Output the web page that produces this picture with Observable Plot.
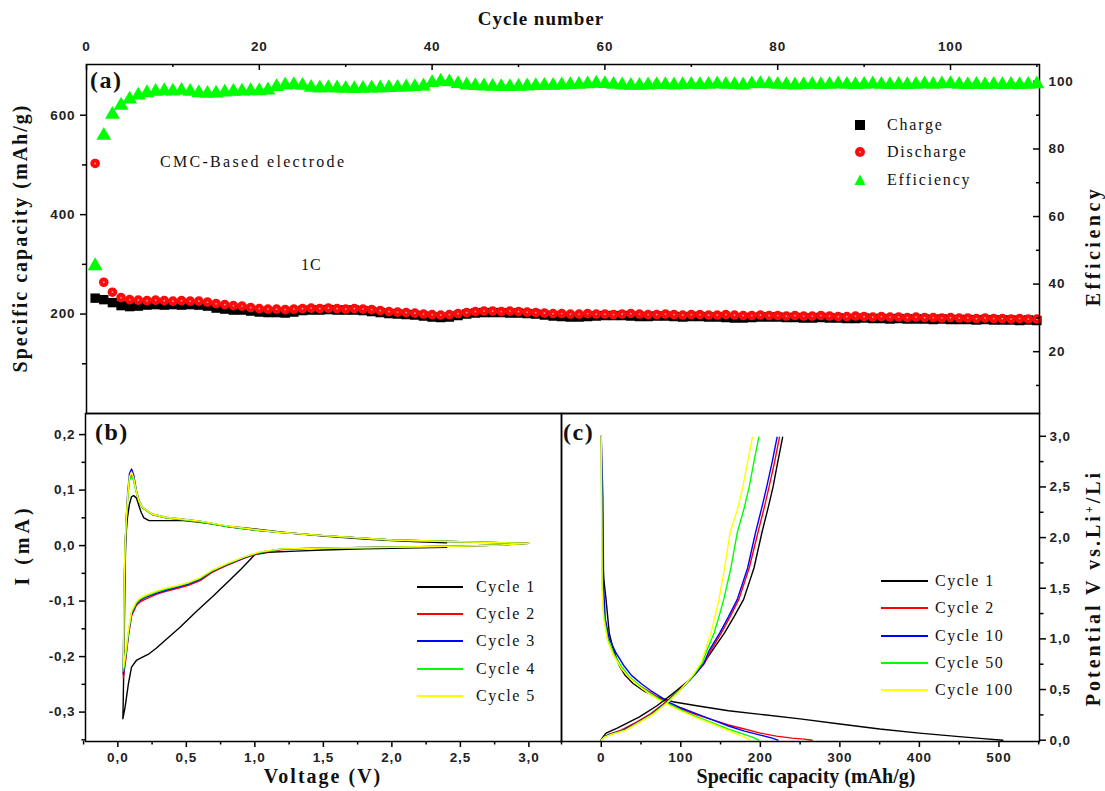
<!DOCTYPE html>
<html>
<head>
<meta charset="utf-8">
<script src="https://cdn.jsdelivr.net/npm/d3@7"></script>
<script src="https://cdn.jsdelivr.net/npm/@observablehq/plot@0.6"></script>
<style>
  body { margin: 0; background: #fff; }
  #chart { position: relative; width: 1105px; height: 791px; background: #fff; overflow: hidden; }
  #chart svg.panel { position: absolute; left: 0; top: 0; background: transparent; overflow: visible; max-width: none; }
  #chart g[aria-label$="tick label"] text { letter-spacing: 0.9px; }
  .lbl { position: absolute; font-family: "Liberation Serif", "Times New Roman", serif; color: #111; white-space: nowrap; line-height: 1; }
  .bold { font-weight: bold; }
</style>
</head>
<body>
<div id="chart"></div>
<script>
// ---------------- Panel (a): cycling data ----------------
const cycleNumber = Array.from({length: 110}, (_, i) => i + 1);
const chargeCapacity = [232,229,223,217,215,216,218,219,218,219,218,219,218,216,212,210,208,208,206,204,
  203,203,202,204,207,208,208,209,208,208,208,207,205,203,201,200,199,198,196,194,
  193,194,197,200,202,203,203,203,202,202,201,200,198,196,195,194,194,195,196,197,
  197,197,196,195,195,196,196,195,194,195,195,194,194,193,192,192,193,194,194,194,
  193,193,192,192,193,192,192,191,191,192,191,191,190,191,190,190,190,189,190,189,
  189,189,188,189,188,188,188,187,188,187];
const dischargeCapacity = [503,264,244,233,229,228,227,228,227,226,227,226,226,224,221,219,217,216,213,211,
  210,210,209,210,211,212,211,212,211,210,211,210,209,207,205,204,203,202,200,199,
  198,199,201,203,205,206,206,205,206,205,204,203,202,201,201,200,200,201,200,200,
  199,200,201,200,199,199,200,199,198,199,199,198,198,199,198,197,197,198,197,197,
  196,197,196,196,197,196,195,195,196,195,194,195,194,194,193,194,193,193,192,193,
  192,192,191,192,191,191,190,191,190,190];
const efficiency = [45.4,84,90.2,92.9,94.7,95.9,96.6,97,97.2,97.1,97.3,97,96.6,96.4,96.5,96.8,97,97.1,97.2,97.2,
  97.4,98.4,98.9,99,98.8,98.2,98,98.1,98,97.9,97.8,97.9,98,98,98.1,98.2,98.3,98.4,98.6,99.6,
  100,99.8,99.3,98.9,98.7,98.6,98.5,98.4,98.4,98.5,98.6,98.7,98.8,98.8,98.9,99,99.1,99.2,99.4,99.3,
  99.1,98.9,98.8,98.8,98.9,99,99,98.9,99,99.1,99,99.1,99.2,99.1,99,98.9,99.2,99.3,99.2,99.1,
  99,98.9,99,99.1,99,99.1,99.2,99.1,99,99.1,99.2,99.1,99,99.1,99,99.1,99.2,99.1,99.2,99.3,
  99.1,99,99.1,99,99.1,99,99.1,99,99.1,99.2];
const cycleTicks = [0, 20, 40, 60, 80, 100];
const cycleMinorTicks = [10, 30, 50, 70, 90, 110];
const capacityTicks = [200, 400, 600];
const capacityMinorTicks = [100, 300, 500];
const efficiencyTicks = [20, 40, 60, 80, 100];
const efficiencyMinorTicks = [10, 30, 50, 70, 90];

// ---------------- Panel (b): cyclic voltammetry [V, mA] ----------------
const cvCycle1 = [[2.4,-0.003],[2.2,-0.004],[1.8,-0.006],[1.5,-0.008],[1.3,-0.010],[1.1,-0.012],[1.0,-0.016],[0.97,-0.024],
  [0.9,-0.042],[0.81,-0.064],[0.7,-0.09],[0.577,-0.118],[0.45,-0.148],[0.344,-0.171],[0.28,-0.185],[0.228,-0.195],
  [0.18,-0.201],[0.135,-0.207],[0.1,-0.219],[0.077,-0.249],[0.053,-0.291],[0.037,-0.312],[0.04,-0.27],[0.045,-0.2],
  [0.05,-0.1],[0.055,-0.02],[0.06,0.02],[0.07,0.05],[0.085,0.075],[0.1,0.088],[0.115,0.09],[0.135,0.086],[0.15,0.075],
  [0.17,0.06],[0.19,0.05],[0.228,0.045],[0.3,0.045],[0.4,0.045],[0.48,0.045],[0.6,0.042],[0.8,0.035],[1.0,0.03],
  [1.2,0.024],[1.5,0.017],[1.8,0.012],[2.0,0.009],[2.2,0.007],[2.4,0.005]];
const cvCycle2 = [[3.0,0.004],[2.8,0.001],[2.5,-0.001],[2.2,-0.002],[2.0,-0.003],[1.7,-0.004],[1.4,-0.005],[1.2,-0.007],
  [1.04,-0.013],[0.93,-0.022],[0.8,-0.035],[0.69,-0.048],[0.6,-0.063],[0.52,-0.071],[0.45,-0.076],[0.344,-0.083],
  [0.28,-0.088],[0.205,-0.096],[0.16,-0.102],[0.135,-0.108],[0.1,-0.127],[0.077,-0.163],[0.06,-0.2],[0.047,-0.225],
  [0.04,-0.238],[0.042,-0.185],[0.045,-0.105],[0.05,-0.035],[0.055,0.008],[0.062,0.048],[0.072,0.088],[0.085,0.12],
  [0.1,0.129],[0.115,0.12],[0.135,0.097],[0.155,0.079],[0.18,0.068],[0.25,0.056],[0.35,0.05],[0.46,0.047],[0.6,0.043],
  [0.81,0.034],[1.0,0.028],[1.175,0.024],[1.5,0.018],[2.0,0.01],[2.5,0.007],[3.0,0.004]];
const cvCycle3 = [[3.0,0.004],[2.8,0.001],[2.5,-0.001],[2.2,-0.002],[2.0,-0.003],[1.65,-0.004],[1.4,-0.005],[1.2,-0.006],
  [1.04,-0.012],[0.93,-0.021],[0.8,-0.034],[0.69,-0.046],[0.6,-0.061],[0.52,-0.069],[0.45,-0.074],[0.344,-0.081],
  [0.28,-0.086],[0.205,-0.093],[0.16,-0.099],[0.135,-0.105],[0.1,-0.123],[0.077,-0.16],[0.06,-0.196],[0.047,-0.221],
  [0.04,-0.232],[0.042,-0.18],[0.045,-0.1],[0.05,-0.03],[0.055,0.012],[0.062,0.052],[0.072,0.095],[0.085,0.13],
  [0.1,0.138],[0.115,0.128],[0.135,0.1],[0.155,0.081],[0.18,0.069],[0.25,0.057],[0.35,0.051],[0.46,0.048],[0.6,0.044],
  [0.81,0.034],[1.0,0.028],[1.175,0.024],[1.5,0.018],[2.0,0.01],[2.5,0.007],[3.0,0.004]];
const cvCycle4 = [[3.0,0.004],[2.8,0.001],[2.5,-0.001],[2.2,-0.002],[2.0,-0.003],[1.7,-0.004],[1.4,-0.005],[1.2,-0.006],
  [1.04,-0.012],[0.93,-0.02],[0.8,-0.033],[0.69,-0.045],[0.6,-0.059],[0.52,-0.067],[0.45,-0.072],[0.344,-0.079],
  [0.28,-0.084],[0.205,-0.091],[0.16,-0.097],[0.135,-0.103],[0.1,-0.121],[0.077,-0.157],[0.06,-0.193],[0.047,-0.216],
  [0.04,-0.226],[0.042,-0.178],[0.045,-0.1],[0.05,-0.032],[0.055,0.008],[0.062,0.047],[0.072,0.086],[0.085,0.118],
  [0.1,0.125],[0.115,0.117],[0.135,0.096],[0.155,0.079],[0.18,0.068],[0.25,0.056],[0.35,0.05],[0.46,0.047],[0.6,0.043],
  [0.81,0.034],[1.0,0.028],[1.175,0.024],[1.5,0.018],[2.0,0.01],[2.5,0.007],[3.0,0.004]];
const cvCycle5 = [[3.0,0.004],[2.8,0.001],[2.5,-0.001],[2.2,-0.002],[2.0,-0.003],[1.7,-0.004],[1.4,-0.005],[1.2,-0.006],
  [1.04,-0.011],[0.93,-0.02],[0.8,-0.032],[0.69,-0.044],[0.6,-0.058],[0.52,-0.066],[0.45,-0.071],[0.344,-0.077],
  [0.28,-0.082],[0.205,-0.089],[0.16,-0.095],[0.135,-0.101],[0.1,-0.118],[0.077,-0.153],[0.06,-0.188],[0.047,-0.21],
  [0.042,-0.22],[0.043,-0.17],[0.045,-0.095],[0.05,-0.028],[0.055,0.012],[0.062,0.05],[0.072,0.09],[0.085,0.124],
  [0.1,0.132],[0.115,0.122],[0.135,0.098],[0.155,0.08],[0.18,0.069],[0.25,0.057],[0.35,0.051],[0.46,0.048],[0.6,0.044],
  [0.81,0.035],[1.0,0.029],[1.175,0.024],[1.5,0.018],[2.0,0.01],[2.5,0.007],[3.0,0.004]];
const cvSeries = [cvCycle1, cvCycle2, cvCycle3, cvCycle4, cvCycle5];
const cvNames = ["Cycle 1", "Cycle 2", "Cycle 3", "Cycle 4", "Cycle 5"];
const voltageTicks = [0, 0.5, 1.0, 1.5, 2.0, 2.5, 3.0];
const voltageMinorTicks = [-0.25, 0.25, 0.75, 1.25, 1.75, 2.25, 2.75];
const currentTicks = [-0.3, -0.2, -0.1, 0, 0.1, 0.2];
const currentMinorTicks = [-0.35, -0.25, -0.15, -0.05, 0.05, 0.15];

// ---------------- Panel (c): galvanostatic profiles [mAh/g, V] ----------------
const gcDischarge1 = [[0.5,2.35],[1,1.93],[3,1.6],[6,1.39],[10,1.06],[15,0.9],[23,0.73],[30,0.64],[40,0.56],[55,0.48],
  [69,0.43],[90,0.38],[120,0.34],[160,0.29],[200,0.255],[250,0.21],[300,0.16],[350,0.11],[400,0.07],[450,0.035],[480,0.015],[505,0.0]];
const gcCharge1 = [[0,0],[2,0.03],[6,0.07],[20,0.12],[48,0.23],[70,0.34],[90,0.46],[112,0.6],[128,0.75],[140,0.89],
  [155,1.06],[167,1.22],[179,1.39],[192,1.7],[202,2.05],[210,2.3],[216,2.5],[222,2.75],[228,2.99]];
const gcDischarge2 = [[0,3.0],[1,2.0],[2,1.5],[4,1.2],[8,1.0],[15,0.85],[25,0.72],[35,0.62],[48,0.54],[60,0.48],[72,0.42],
  [85,0.36],[100,0.31],[120,0.25],[140,0.2],[160,0.15],[180,0.11],[200,0.07],[220,0.04],[240,0.02],[255,0.01],[265,0.0]];
const gcCharge2 = [[0,0],[3,0.03],[10,0.06],[25,0.1],[45,0.18],[62,0.26],[80,0.37],[100,0.51],[118,0.65],[130,0.76],[138,0.89],
  [151,1.06],[162,1.22],[173,1.39],[186,1.7],[197,2.05],[205,2.3],[211,2.5],[218,2.75],[224,2.99]];
const gcDischarge10 = [[0,3.0],[2,2.4],[3,1.5],[5,1.2],[10,1.0],[18,0.87],[28,0.74],[38,0.64],[50,0.56],[62,0.49],[74,0.43],
  [86,0.37],[100,0.32],[120,0.26],[140,0.2],[160,0.14],[180,0.09],[200,0.05],[215,0.02],[222,0.0]];
const gcCharge10 = [[0,0],[3,0.03],[12,0.06],[28,0.1],[47,0.18],[64,0.26],[81,0.37],[100,0.5],[117,0.64],[129,0.76],[136,0.89],
  [149,1.06],[160,1.22],[171,1.39],[184,1.7],[194,2.05],[202,2.3],[208,2.5],[215,2.75],[221,2.99]];
const gcDischarge50 = [[0,3.0],[1,1.6],[3,1.25],[8,1.0],[16,0.85],[26,0.72],[36,0.62],[48,0.54],[60,0.47],[72,0.41],[84,0.36],
  [100,0.3],[120,0.23],[140,0.17],[160,0.11],[175,0.07],[190,0.03],[198,0.0]];
const gcCharge50 = [[0,0],[4,0.03],[13,0.06],[30,0.1],[48,0.18],[65,0.26],[82,0.37],[100,0.5],[116,0.64],[127,0.76],[133,0.89],
  [142,1.06],[148,1.22],[154,1.39],[163,1.7],[171,2.05],[180,2.3],[186,2.5],[192,2.75],[198,2.99]];
const gcDischarge100 = [[0,3.0],[1,1.5],[3,1.2],[8,0.98],[16,0.83],[26,0.7],[36,0.61],[48,0.53],[60,0.46],[72,0.4],[84,0.35],
  [100,0.29],[120,0.22],[140,0.16],[155,0.11],[170,0.06],[180,0.03],[187,0.0]];
const gcCharge100 = [[0,0],[4,0.03],[14,0.06],[31,0.1],[49,0.18],[66,0.26],[83,0.37],[100,0.5],[115,0.64],[125,0.76],[131,0.89],
  [138,1.06],[143,1.22],[148,1.39],[155,1.7],[162,2.05],[172,2.3],[178,2.5],[184,2.75],[190,2.99]];
const gcNames = ["Cycle 1", "Cycle 2", "Cycle 10", "Cycle 50", "Cycle 100"];
const gcDischarge = [gcDischarge1, gcDischarge2, gcDischarge10, gcDischarge50, gcDischarge100];
const gcCharge = [gcCharge1, gcCharge2, gcCharge10, gcCharge50, gcCharge100];
const capTicksC = [0, 100, 200, 300, 400, 500];
const capMinorTicksC = [-50, 50, 150, 250, 350, 450, 550];
const potentialTicks = [0, 0.5, 1.0, 1.5, 2.0, 2.5, 3.0];
const potentialMinorTicks = [0.25, 0.75, 1.25, 1.75, 2.25, 2.75];

const seriesColors = ["#000000", "#ff0000", "#0000ff", "#00ff00", "#ffff00"];

// ---------------- Layout ----------------
const W = 1105, H = 791;
const chart = document.getElementById("chart");
const tickFont = {fontFamily: "Liberation Sans, Arial, sans-serif", fontWeight: "bold", fontSize: 13.5, fill: "#222"};
const comma = d => d.toFixed(1).replace(".", ",");
const blank = () => "";

function addPlot(opts) {
  const svg = Plot.plot({width: W, height: H, ...opts});
  svg.classList.add("panel");
  chart.appendChild(svg);
}

// Panel (a) geometry
const A = {l: 86, r: 66, t: 64, b: 378};
const AfW = W - A.l - A.r, AfH = H - A.t - A.b;

addPlot({
  marginLeft: A.l, marginRight: A.r, marginTop: A.t, marginBottom: A.b,
  x: {domain: [0, 110.3]},
  y: {domain: [0, 702]},
  marks: [
    Plot.axisY(capacityTicks, {anchor: "left", tickSize: 6, tickPadding: 5, label: null, strokeWidth: 1.5, ...tickFont}),
    Plot.axisY(capacityMinorTicks, {anchor: "left", tickSize: 4, tickFormat: blank, label: null, strokeWidth: 1.5}),
    Plot.axisX(cycleTicks, {anchor: "top", tickSize: 0, tickPadding: 14, label: null, ...tickFont}),
    Plot.tickX(cycleTicks, {x: d => d, insetBottom: AfH - 6, stroke: "#000", strokeWidth: 1.5}),
    Plot.tickX(cycleMinorTicks, {x: d => d, insetBottom: AfH - 3, stroke: "#000", strokeWidth: 1.5}),
    Plot.dot(cycleNumber, {x: d => d, y: (d, i) => chargeCapacity[i], symbol: "square", r: 5.3, fill: "#000", stroke: null}),
    Plot.dot(cycleNumber, {x: d => d, y: (d, i) => dischargeCapacity[i], symbol: "circle", r: 4.8, fill: "#ff0a0a", stroke: null}),
    Plot.dot(cycleNumber, {x: d => d, y: (d, i) => dischargeCapacity[i], symbol: "circle", r: 0.9, fill: "#ff9a9a", stroke: null}),
    Plot.frame({stroke: "#000", strokeWidth: 1.5})
  ]
});

addPlot({
  marginLeft: A.l, marginRight: A.r, marginTop: A.t, marginBottom: A.b,
  x: {domain: [0, 110.3], axis: null},
  y: {domain: [1.7, 105]},
  marks: [
    Plot.axisY(efficiencyTicks, {anchor: "right", tickSize: 0, tickPadding: 9, label: null, ...tickFont}),
    Plot.tickY(efficiencyTicks, {y: d => d, insetLeft: AfW - 6, stroke: "#000", strokeWidth: 1.5}),
    Plot.tickY(efficiencyMinorTicks, {y: d => d, insetLeft: AfW - 3, stroke: "#000", strokeWidth: 1.5}),
    Plot.dot(cycleNumber, {x: d => d, y: (d, i) => efficiency[i], symbol: "triangle", r: 5.5, fill: "#00ff00", stroke: null})
  ]
});

// Panel (b)
const B = {l: 85, r: 544, t: 413, b: 50};
addPlot({
  marginLeft: B.l, marginRight: B.r, marginTop: B.t, marginBottom: B.b,
  x: {domain: [-0.236, 3.238]},
  y: {domain: [-0.353, 0.238]},
  marks: [
    Plot.axisY(currentTicks, {anchor: "left", tickSize: 6, tickPadding: 4, tickFormat: comma, label: null, strokeWidth: 1.5, ...tickFont}),
    Plot.axisY(currentMinorTicks, {anchor: "left", tickSize: 3.5, tickFormat: blank, label: null, strokeWidth: 1.5}),
    Plot.axisX(voltageTicks, {anchor: "bottom", tickSize: 6, tickPadding: 5, tickFormat: comma, label: null, strokeWidth: 1.5, ...tickFont}),
    Plot.axisX(voltageMinorTicks, {anchor: "bottom", tickSize: 3.5, tickFormat: blank, label: null, strokeWidth: 1.5}),
    ...cvSeries.map((s, i) => Plot.line(s, {x: d => d[0], y: d => d[1], stroke: seriesColors[i], strokeWidth: 1.4})),
    Plot.frame({stroke: "#000", strokeWidth: 1.5})
  ]
});

// Panel (c)
const C = {l: 561, r: 66, t: 413, b: 50};
addPlot({
  marginLeft: C.l, marginRight: C.r, marginTop: C.t, marginBottom: C.b,
  x: {domain: [-50, 551]},
  y: {domain: [-0.013, 3.225]},
  marks: [
    Plot.axisY(potentialTicks, {anchor: "right", tickSize: 6, tickPadding: 4, tickFormat: comma, label: null, strokeWidth: 1.5, ...tickFont}),
    Plot.axisY(potentialMinorTicks, {anchor: "right", tickSize: 3.5, tickFormat: blank, label: null, strokeWidth: 1.5}),
    Plot.axisX(capTicksC, {anchor: "bottom", tickSize: 6, tickPadding: 5, label: null, strokeWidth: 1.5, ...tickFont}),
    Plot.axisX(capMinorTicksC, {anchor: "bottom", tickSize: 3.5, tickFormat: blank, label: null, strokeWidth: 1.5}),
    ...gcDischarge.map((s, i) => Plot.line(s, {x: d => d[0], y: d => d[1], stroke: seriesColors[i], strokeWidth: 1.4})),
    ...gcCharge.map((s, i) => Plot.line(s, {x: d => d[0], y: d => d[1], stroke: seriesColors[i], strokeWidth: 1.4})),
    Plot.frame({stroke: "#000", strokeWidth: 1.5})
  ]
});

// ---------------- Text, titles and legends ----------------
function label(html, cx, cy, {size = 16, bold = false, ls = 0, rotate = false, anchor = "center"} = {}) {
  const d = document.createElement("div");
  d.className = "lbl" + (bold ? " bold" : "");
  d.innerHTML = html;
  d.style.fontSize = size + "px";
  d.style.letterSpacing = ls + "px";
  d.style.left = cx + "px";
  d.style.top = cy + "px";
  if (rotate) d.style.transform = "translate(-50%,-50%) rotate(-90deg)";
  else if (anchor === "start") d.style.transform = "translate(0,-50%)";
  else d.style.transform = "translate(-50%,-50%)";
  chart.appendChild(d);
}

label("Cycle number", 541, 18, {size: 19, bold: true, ls: 1});
label("(a)", 90, 80, {size: 24, bold: true, ls: 1.5, anchor: "start"});
label("(b)", 95, 432, {size: 24, bold: true, ls: 1.5, anchor: "start"});
label("(c)", 563, 432, {size: 24, bold: true, ls: 1.5, anchor: "start"});
label("CMC-Based electrode", 160, 162, {size: 16, ls: 2.3, anchor: "start"});
label("1C", 301, 265, {size: 16, ls: 1, anchor: "start"});
label("Specific capacity (mAh/g)", 20, 238, {size: 20, bold: true, ls: 2, rotate: true});
label("Efficiency", 1093, 246, {size: 20, bold: true, ls: 3.5, rotate: true});
label("I (mA)", 22, 545, {size: 20, bold: true, ls: 4, rotate: true});
label("Potential V vs.Li<sup style=\"font-size:12px\">+</sup>/Li", 1093, 588, {size: 20, bold: true, ls: 3, rotate: true});
label("Voltage (V)", 323, 776, {size: 20, bold: true, ls: 2});
label("Specific capacity (mAh/g)", 806, 776, {size: 20, bold: true, ls: 0});

function swatch(svgInner, left, cy, w, h) {
  const ns = "http://www.w3.org/2000/svg";
  const s = document.createElementNS(ns, "svg");
  s.setAttribute("width", w); s.setAttribute("height", h);
  s.style.position = "absolute";
  s.style.left = left + "px";
  s.style.top = (cy - h / 2) + "px";
  s.innerHTML = svgInner;
  chart.appendChild(s);
}

// Legend (a)
const legendA = [
  {name: "Charge", shape: '<rect x="1" y="1" width="10" height="10" fill="#000"/>'},
  {name: "Discharge", shape: '<circle cx="6" cy="6" r="5" fill="#ff0a0a"/><circle cx="6" cy="6" r="1" fill="#ff9a9a"/>'},
  {name: "Efficiency", shape: '<path d="M6,0.5 L11.5,11 L0.5,11 Z" fill="#00ff00"/>'}
];
const legendAY = [125, 152, 180];
legendA.forEach((e, i) => {
  swatch(e.shape, 854, legendAY[i], 12, 12);
  label(e.name, 887, legendAY[i], {size: 16, ls: 1.8, anchor: "start"});
});

// Legend (b)
cvNames.forEach((n, i) => {
  const cy = 587 + 27.2 * i;
  swatch(`<line x1="0" y1="2" x2="46" y2="2" stroke="${seriesColors[i]}" stroke-width="2"/>`, 417, cy, 46, 4);
  label(n, 476, cy, {size: 16, ls: 1.5, anchor: "start"});
});

// Legend (c)
gcNames.forEach((n, i) => {
  const cy = 581 + 27.3 * i;
  swatch(`<line x1="0" y1="2" x2="47" y2="2" stroke="${seriesColors[i]}" stroke-width="2"/>`, 881, cy, 47, 4);
  label(n, 935, cy, {size: 16, ls: 1.5, anchor: "start"});
});
</script>
</body>
</html>
